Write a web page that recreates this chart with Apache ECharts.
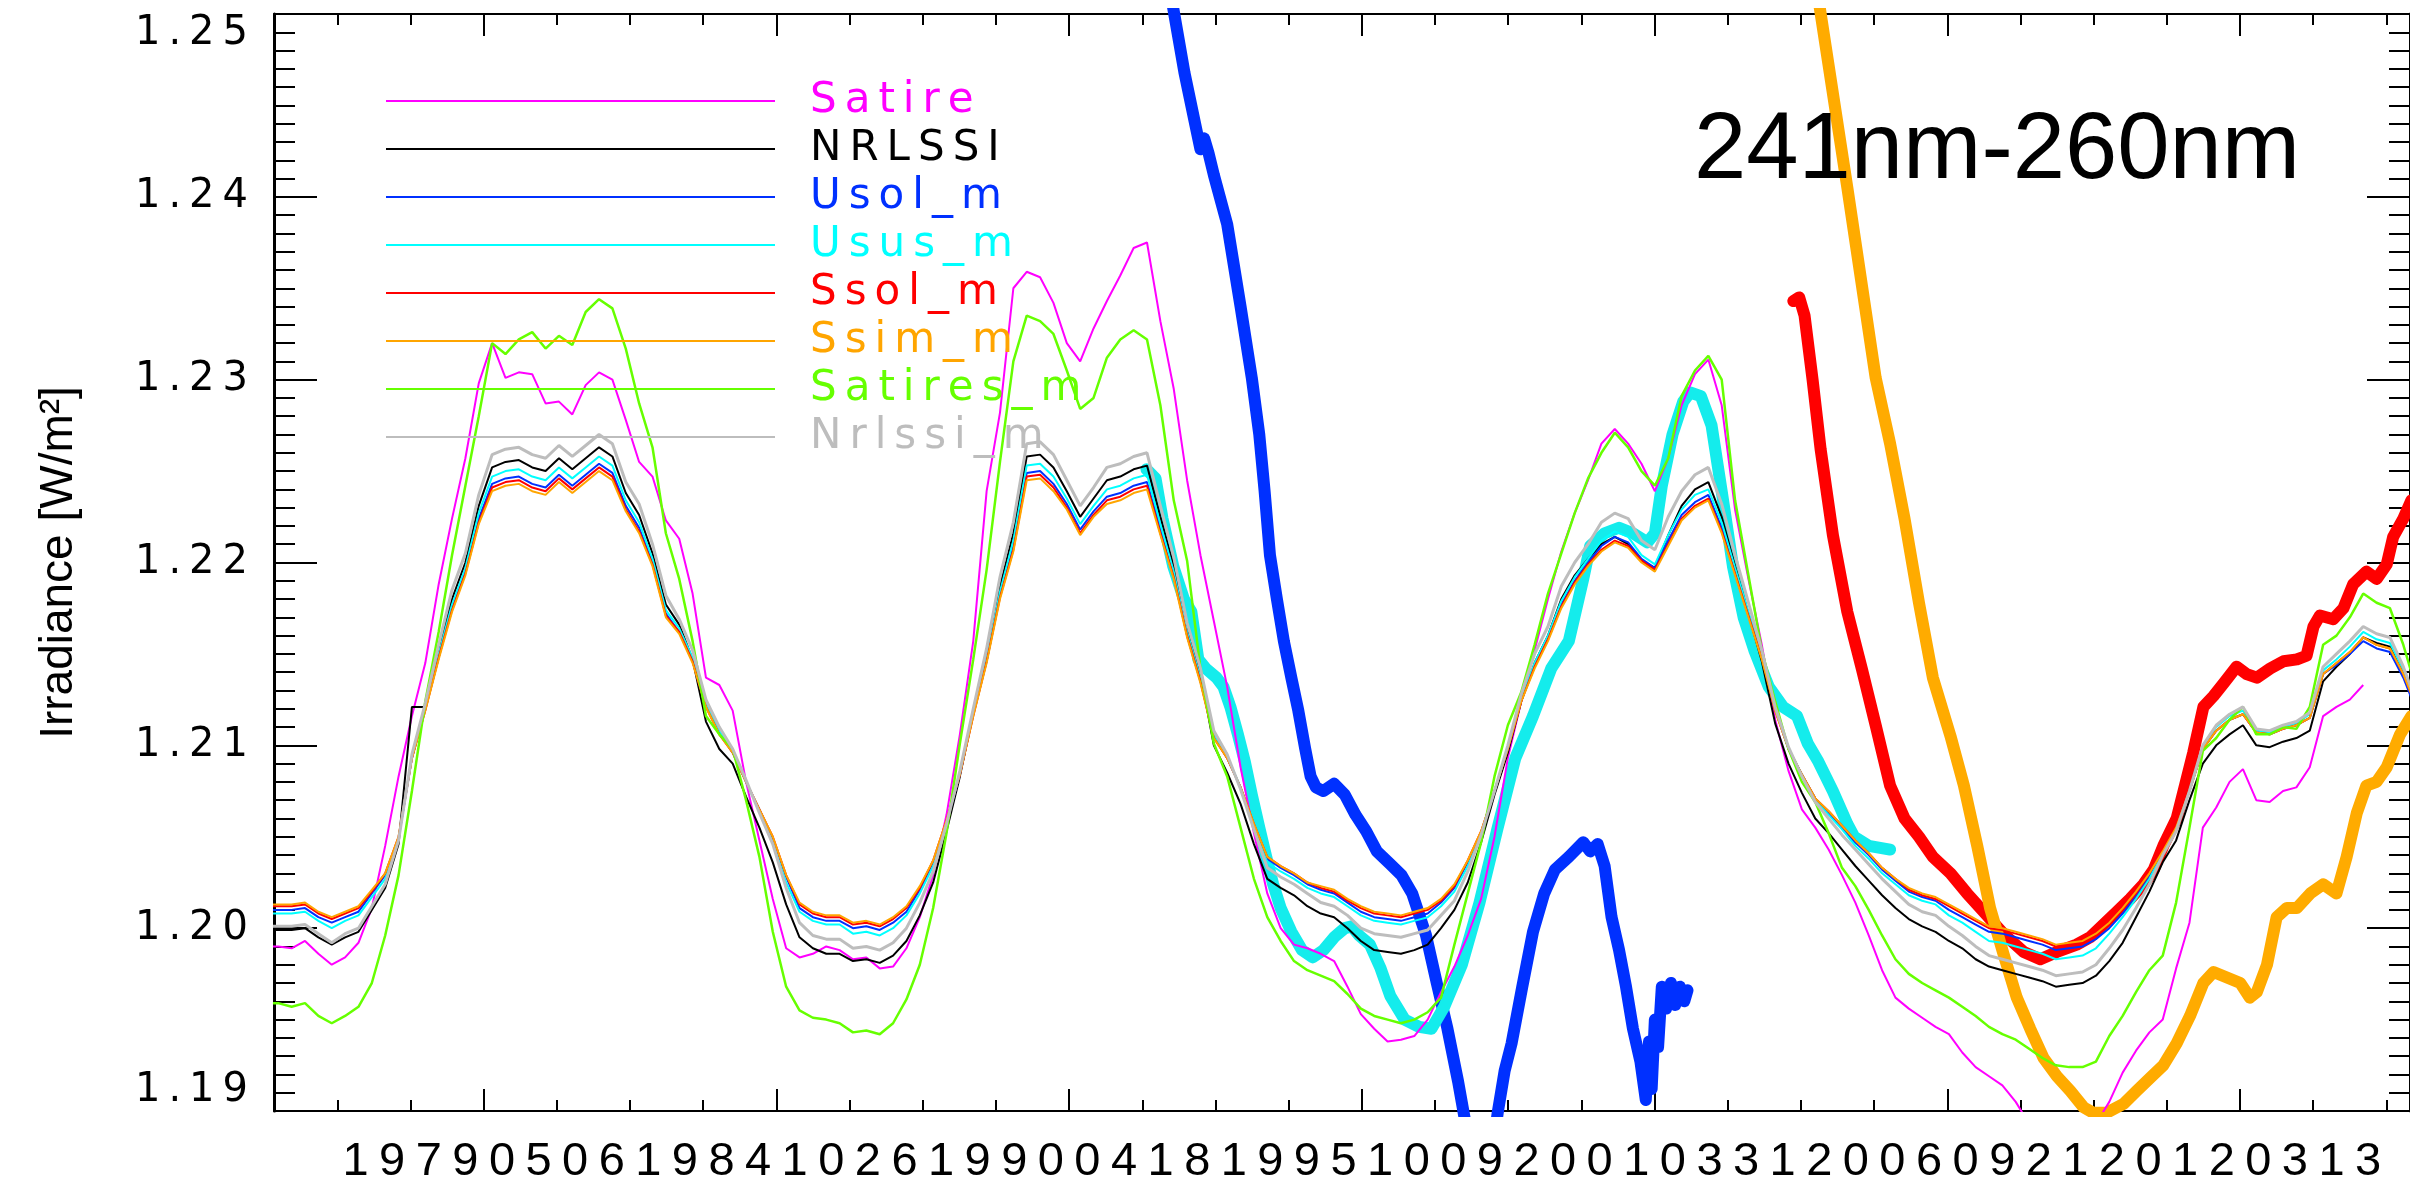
<!DOCTYPE html>
<html>
<head>
<meta charset="utf-8">
<script src="https://cdn.jsdelivr.net/npm/echarts@6/dist/echarts.min.js"></script>
<style>
  html, body { margin: 0; padding: 0; background: #fff; }
  #chart { width: 2410px; height: 1186px; }
</style>
</head>
<body>
<div id="chart"></div>
<script>
// Sample times (decimal years) shared by the eight modelled series
const years = [
  1975.4, 1975.5, 1975.75,
  1976, 1976.25, 1976.5, 1976.75,
  1977, 1977.25, 1977.5, 1977.75,
  1978, 1978.25, 1978.5, 1978.75,
  1979, 1979.25, 1979.5, 1979.75,
  1980, 1980.25, 1980.5, 1980.75,
  1981, 1981.25, 1981.5, 1981.75,
  1982, 1982.25, 1982.5, 1982.75,
  1983, 1983.25, 1983.5, 1983.75,
  1984, 1984.25, 1984.5, 1984.75,
  1985, 1985.25, 1985.5, 1985.75,
  1986, 1986.25, 1986.5, 1986.75,
  1987, 1987.25, 1987.5, 1987.75,
  1988, 1988.25, 1988.5, 1988.75,
  1989, 1989.25, 1989.5, 1989.75,
  1990, 1990.25, 1990.5, 1990.75,
  1991, 1991.25, 1991.5, 1991.75,
  1992, 1992.25, 1992.5, 1992.75,
  1993, 1993.25, 1993.5, 1993.75,
  1994, 1994.25, 1994.5, 1994.75,
  1995, 1995.25, 1995.5, 1995.75,
  1996, 1996.25, 1996.5, 1996.75,
  1997, 1997.25, 1997.5, 1997.75,
  1998, 1998.25, 1998.5, 1998.75,
  1999, 1999.25, 1999.5, 1999.75,
  2000, 2000.25, 2000.5, 2000.75,
  2001, 2001.25, 2001.5, 2001.75,
  2002, 2002.25, 2002.5, 2002.75,
  2003, 2003.25, 2003.5, 2003.75,
  2004, 2004.25, 2004.5, 2004.75,
  2005, 2005.25, 2005.5, 2005.75,
  2006, 2006.25, 2006.5, 2006.75,
  2007, 2007.25, 2007.5, 2007.75,
  2008, 2008.25, 2008.5, 2008.75,
  2009, 2009.25, 2009.5, 2009.75,
  2010, 2010.25, 2010.5, 2010.75,
  2011, 2011.25, 2011.5, 2011.75,
  2012, 2012.25, 2012.5, 2012.75,
  2013, 2013.25, 2013.5, 2013.75,
  2014, 2014.25, 2014.5, 2014.75,
  2015, 2015.25, 2015.4
];

const satire = [
  1.1990, 1.1990, 1.1989,
  1.1993, 1.1986, 1.1980, 1.1984,
  1.1992, 1.2011, 1.2045, 1.2083,
  1.2116, 1.2145, 1.2188, 1.2224,
  1.2257, 1.2298, 1.2320, 1.2301,
  1.2304, 1.2303, 1.2287, 1.2288,
  1.2281, 1.2297, 1.2304, 1.2300,
  1.2278, 1.2255, 1.2247, 1.2223,
  1.2213, 1.2183, 1.2137, 1.2133,
  1.2119, 1.2080, 1.2048, 1.2016,
  1.1989, 1.1984, 1.1986, 1.1990,
  1.1988, 1.1983, 1.1984, 1.1978,
  1.1979, 1.1989, 1.2006, 1.2029,
  1.2062, 1.2106, 1.2157, 1.2239,
  1.2282, 1.2350, 1.2359, 1.2356,
  1.2342, 1.2320, 1.2310, 1.2328,
  1.2343, 1.2357, 1.2372, 1.2375,
  1.2332, 1.2295, 1.2245, 1.2204,
  1.2168, 1.2132, 1.2088, 1.2052,
  1.2019, 1.2000, 1.1991, 1.1989,
  1.1986, 1.1982, 1.1968, 1.1953,
  1.1945, 1.1938, 1.1939, 1.1941,
  1.1950, 1.1965, 1.1979, 1.1996,
  1.2016, 1.2050, 1.2093, 1.2124,
  1.2152, 1.2180, 1.2206, 1.2227,
  1.2245, 1.2265, 1.2273, 1.2265,
  1.2254, 1.2239, 1.2257, 1.2286,
  1.2303, 1.2311, 1.2286, 1.2229,
  1.2191, 1.2155, 1.2114, 1.2086,
  1.2065, 1.2055, 1.2043, 1.2029,
  1.2014, 1.1996, 1.1977, 1.1962,
  1.1956, 1.1951, 1.1946, 1.1942,
  1.1932, 1.1924, 1.1919, 1.1914,
  1.1905, 1.1893, 1.1888, 1.1884,
  1.1884, 1.1886, 1.1893, 1.1905,
  1.1921, 1.1933, 1.1943, 1.1950,
  1.1978, 1.2003, 1.2055, 1.2066,
  1.2080, 1.2087, 1.2070, 1.2069,
  1.2075, 1.2077, 1.2088, 1.2116,
  1.2121, 1.2125, 1.2133, null,
  null, null, null
];

const nrlssi = [
  1.1999, 1.1999, 1.1999,
  1.2000, 1.1995, 1.1991, 1.1995,
  1.1998, 1.2010, 1.2022, 1.2046,
  1.2121, 1.2121, 1.2152, 1.2180,
  1.2200, 1.2231, 1.2252, 1.2255,
  1.2256, 1.2252, 1.2250, 1.2257,
  1.2251, 1.2257, 1.2263, 1.2258,
  1.2238, 1.2226, 1.2205, 1.2177,
  1.2166, 1.2147, 1.2113, 1.2098,
  1.2090, 1.2072, 1.2055, 1.2036,
  1.2013, 1.1995, 1.1989, 1.1986,
  1.1986, 1.1982, 1.1983, 1.1981,
  1.1985, 1.1993, 1.2007, 1.2025,
  1.2053, 1.2083, 1.2118, 1.2150,
  1.2187, 1.2216, 1.2258, 1.2259,
  1.2252, 1.2239, 1.2225, 1.2235,
  1.2245, 1.2247, 1.2251, 1.2253,
  1.2225, 1.2198, 1.2164, 1.2139,
  1.2100, 1.2085, 1.2068, 1.2046,
  1.2027, 1.2022, 1.2018, 1.2012,
  1.2008, 1.2006, 1.2000, 1.1993,
  1.1988, 1.1987, 1.1986, 1.1988,
  1.1991, 1.2000, 1.2010, 1.2025,
  1.2047, 1.2073, 1.2096, 1.2124,
  1.2145, 1.2160, 1.2180, 1.2193,
  1.2202, 1.2210, 1.2214, 1.2210,
  1.2201, 1.2197, 1.2215, 1.2231,
  1.2240, 1.2244, 1.2225, 1.2198,
  1.2172, 1.2146, 1.2112, 1.2090,
  1.2074, 1.2060, 1.2052, 1.2043,
  1.2034, 1.2026, 1.2018, 1.2011,
  1.2005, 1.2001, 1.1998, 1.1993,
  1.1989, 1.1983, 1.1979, 1.1977,
  1.1975, 1.1973, 1.1971, 1.1968,
  1.1969, 1.1970, 1.1974, 1.1982,
  1.1992, 1.2006, 1.2020, 1.2036,
  1.2048, 1.2070, 1.2090, 1.2100,
  1.2106, 1.2111, 1.2100, 1.2099,
  1.2102, 1.2104, 1.2108, 1.2135,
  1.2143, 1.2150, 1.2159, 1.2156,
  1.2154, 1.2139, 1.2128
];

const usolM = [
  1.2010, 1.2010, 1.2010,
  1.2011, 1.2006, 1.2003, 1.2006,
  1.2009, 1.2019, 1.2029, 1.2049,
  1.2093, 1.2120, 1.2148, 1.2175,
  1.2195, 1.2224, 1.2243, 1.2246,
  1.2247, 1.2243, 1.2241, 1.2248,
  1.2242, 1.2248, 1.2254, 1.2249,
  1.2231, 1.2219, 1.2200, 1.2172,
  1.2162, 1.2146, 1.2122, 1.2107,
  1.2096, 1.2080, 1.2065, 1.2049,
  1.2028, 1.2011, 1.2006, 1.2004,
  1.2004, 1.2000, 1.2001, 1.1999,
  1.2003, 1.2009, 1.2021, 1.2036,
  1.2058, 1.2084, 1.2117, 1.2146,
  1.2182, 1.2209, 1.2249, 1.2250,
  1.2243, 1.2232, 1.2218, 1.2228,
  1.2236, 1.2238, 1.2242, 1.2244,
  1.2218, 1.2193, 1.2160, 1.2135,
  1.2105, 1.2093, 1.2077, 1.2056,
  1.2038, 1.2033, 1.2029, 1.2024,
  1.2021, 1.2019, 1.2014, 1.2009,
  1.2006, 1.2005, 1.2004, 1.2006,
  1.2008, 1.2014, 1.2022, 1.2036,
  1.2052, 1.2075, 1.2098, 1.2125,
  1.2143, 1.2158, 1.2177, 1.2190,
  1.2200, 1.2209, 1.2214, 1.2211,
  1.2202, 1.2197, 1.2212, 1.2226,
  1.2233, 1.2237, 1.2219, 1.2195,
  1.2172, 1.2148, 1.2120, 1.2098,
  1.2084, 1.2071, 1.2063, 1.2055,
  1.2047, 1.2040, 1.2032, 1.2026,
  1.2020, 1.2017, 1.2015, 1.2010,
  1.2006, 1.2002, 1.1998, 1.1997,
  1.1995, 1.1993, 1.1991, 1.1988,
  1.1989, 1.1990, 1.1994, 1.2000,
  1.2008, 1.2018, 1.2029, 1.2041,
  1.2054, 1.2075, 1.2098, 1.2108,
  1.2114, 1.2117, 1.2107, 1.2106,
  1.2109, 1.2111, 1.2115, 1.2139,
  1.2144, 1.2150, 1.2157, 1.2153,
  1.2151, 1.2137, 1.2126
];

const ususM = [
  1.2008, 1.2008, 1.2008,
  1.2009, 1.2004, 1.2000, 1.2004,
  1.2007, 1.2017, 1.2027, 1.2049,
  1.2094, 1.2121, 1.2150, 1.2177,
  1.2197, 1.2227, 1.2247, 1.2250,
  1.2251, 1.2247, 1.2245, 1.2252,
  1.2246, 1.2252, 1.2258, 1.2253,
  1.2234, 1.2222, 1.2202, 1.2174,
  1.2164, 1.2148, 1.2123, 1.2108,
  1.2097, 1.2080, 1.2064, 1.2047,
  1.2025, 1.2009, 1.2004, 1.2002,
  1.2002, 1.1997, 1.1998, 1.1996,
  1.2000, 1.2007, 1.2019, 1.2034,
  1.2058, 1.2085, 1.2118, 1.2148,
  1.2184, 1.2212, 1.2253, 1.2254,
  1.2247, 1.2235, 1.2221, 1.2231,
  1.2240, 1.2242, 1.2246, 1.2248,
  1.2221, 1.2195, 1.2162, 1.2137,
  1.2106, 1.2094, 1.2077, 1.2056,
  1.2036, 1.2031, 1.2027, 1.2022,
  1.2019, 1.2017, 1.2012, 1.2007,
  1.2004, 1.2003, 1.2002, 1.2004,
  1.2006, 1.2012, 1.2020, 1.2034,
  1.2052, 1.2075, 1.2099, 1.2126,
  1.2145, 1.2160, 1.2179, 1.2192,
  1.2202, 1.2212, 1.2217, 1.2214,
  1.2204, 1.2199, 1.2215, 1.2229,
  1.2237, 1.2240, 1.2222, 1.2197,
  1.2173, 1.2149, 1.2120, 1.2098,
  1.2084, 1.2070, 1.2062, 1.2054,
  1.2045, 1.2038, 1.2030, 1.2024,
  1.2018, 1.2015, 1.2013, 1.2007,
  1.2003, 1.1998, 1.1993, 1.1992,
  1.1990, 1.1988, 1.1986, 1.1983,
  1.1984, 1.1985, 1.1989, 1.1997,
  1.2006, 1.2016, 1.2027, 1.2041,
  1.2054, 1.2075, 1.2099, 1.2110,
  1.2116, 1.2119, 1.2108, 1.2107,
  1.2110, 1.2112, 1.2117, 1.2141,
  1.2147, 1.2154, 1.2162, 1.2158,
  1.2156, 1.2141, 1.2130
];

const ssolM = [
  1.2012, 1.2012, 1.2012,
  1.2013, 1.2008, 1.2005, 1.2008,
  1.2011, 1.2020, 1.2030, 1.2050,
  1.2093, 1.2119, 1.2148, 1.2174,
  1.2194, 1.2222, 1.2241, 1.2244,
  1.2245, 1.2241, 1.2239, 1.2246,
  1.2240, 1.2246, 1.2252, 1.2247,
  1.2229, 1.2217, 1.2199, 1.2171,
  1.2162, 1.2146, 1.2121, 1.2106,
  1.2096, 1.2080, 1.2065, 1.2050,
  1.2029, 1.2013, 1.2008, 1.2006,
  1.2006, 1.2002, 1.2003, 1.2001,
  1.2005, 1.2011, 1.2022, 1.2037,
  1.2059, 1.2084, 1.2116, 1.2146,
  1.2181, 1.2207, 1.2247, 1.2248,
  1.2241, 1.2230, 1.2216, 1.2226,
  1.2234, 1.2236, 1.2240, 1.2242,
  1.2216, 1.2192, 1.2160, 1.2135,
  1.2104, 1.2093, 1.2077, 1.2057,
  1.2039, 1.2034, 1.2030, 1.2025,
  1.2022, 1.2020, 1.2015, 1.2011,
  1.2008, 1.2007, 1.2006, 1.2008,
  1.2010, 1.2015, 1.2023, 1.2037,
  1.2053, 1.2075, 1.2098, 1.2124,
  1.2143, 1.2158, 1.2176, 1.2189,
  1.2199, 1.2207, 1.2212, 1.2209,
  1.2201, 1.2196, 1.2210, 1.2224,
  1.2231, 1.2235, 1.2217, 1.2194,
  1.2171, 1.2148, 1.2119, 1.2098,
  1.2084, 1.2071, 1.2064, 1.2056,
  1.2048, 1.2041, 1.2033, 1.2027,
  1.2021, 1.2018, 1.2016, 1.2012,
  1.2008, 1.2004, 1.2000, 1.1999,
  1.1997, 1.1995, 1.1993, 1.1990,
  1.1991, 1.1992, 1.1996, 1.2002,
  1.2010, 1.2019, 1.2030, 1.2042,
  1.2055, 1.2075, 1.2098, 1.2108,
  1.2114, 1.2117, 1.2107, 1.2106,
  1.2109, 1.2111, 1.2115, 1.2139,
  1.2145, 1.2151, 1.2159, 1.2155,
  1.2153, 1.2139, 1.2128
];

const ssimM = [
  1.2013, 1.2013, 1.2013,
  1.2014, 1.2009, 1.2006, 1.2009,
  1.2012, 1.2021, 1.2030, 1.2050,
  1.2093, 1.2119, 1.2147, 1.2173,
  1.2193, 1.2221, 1.2239, 1.2242,
  1.2243, 1.2239, 1.2237, 1.2244,
  1.2238, 1.2244, 1.2250, 1.2245,
  1.2228, 1.2216, 1.2198, 1.2170,
  1.2161, 1.2145, 1.2121, 1.2106,
  1.2096, 1.2080, 1.2065, 1.2050,
  1.2029, 1.2014, 1.2009, 1.2007,
  1.2007, 1.2003, 1.2004, 1.2002,
  1.2006, 1.2012, 1.2023, 1.2037,
  1.2059, 1.2084, 1.2116, 1.2145,
  1.2180, 1.2206, 1.2245, 1.2246,
  1.2239, 1.2229, 1.2215, 1.2225,
  1.2232, 1.2234, 1.2238, 1.2240,
  1.2215, 1.2191, 1.2159, 1.2134,
  1.2104, 1.2093, 1.2077, 1.2057,
  1.2039, 1.2034, 1.2030, 1.2025,
  1.2023, 1.2021, 1.2016, 1.2012,
  1.2009, 1.2008, 1.2007, 1.2009,
  1.2011, 1.2016, 1.2024, 1.2037,
  1.2053, 1.2075, 1.2098, 1.2124,
  1.2142, 1.2157, 1.2175, 1.2188,
  1.2198, 1.2206, 1.2211, 1.2208,
  1.2200, 1.2195, 1.2209, 1.2223,
  1.2230, 1.2234, 1.2216, 1.2193,
  1.2170, 1.2147, 1.2119, 1.2098,
  1.2084, 1.2071, 1.2064, 1.2056,
  1.2048, 1.2041, 1.2033, 1.2027,
  1.2022, 1.2019, 1.2017, 1.2013,
  1.2009, 1.2005, 1.2001, 1.2000,
  1.1998, 1.1996, 1.1994, 1.1991,
  1.1992, 1.1993, 1.1997, 1.2003,
  1.2011, 1.2020, 1.2030, 1.2042,
  1.2055, 1.2075, 1.2098, 1.2108,
  1.2114, 1.2117, 1.2107, 1.2106,
  1.2109, 1.2111, 1.2115, 1.2139,
  1.2145, 1.2151, 1.2159, 1.2155,
  1.2153, 1.2139, 1.2128
];

const satiresM = [
  1.1959, 1.1959, 1.1957,
  1.1959, 1.1952, 1.1948, 1.1952,
  1.1957, 1.1970, 1.1996, 1.2029,
  1.2075, 1.2124, 1.2162, 1.2204,
  1.2242, 1.2280, 1.2320, 1.2314,
  1.2322, 1.2326, 1.2317, 1.2324,
  1.2319, 1.2337, 1.2344, 1.2339,
  1.2317, 1.2287, 1.2263, 1.2216,
  1.2191, 1.2157, 1.2116, 1.2106,
  1.2098, 1.2070, 1.2039, 1.1998,
  1.1968, 1.1955, 1.1951, 1.1950,
  1.1948, 1.1943, 1.1944, 1.1942,
  1.1948, 1.1961, 1.1980, 1.2011,
  1.2052, 1.2101, 1.2147, 1.2196,
  1.2255, 1.2310, 1.2335, 1.2332,
  1.2325, 1.2305, 1.2284, 1.2290,
  1.2312, 1.2322, 1.2327, 1.2322,
  1.2286, 1.2234, 1.2201, 1.2142,
  1.2101, 1.2083, 1.2055, 1.2027,
  1.2006, 1.1993, 1.1982, 1.1977,
  1.1974, 1.1971, 1.1964, 1.1956,
  1.1952, 1.1950, 1.1948, 1.1950,
  1.1954, 1.1962, 1.1991, 1.2019,
  1.2047, 1.2083, 1.2111, 1.2129,
  1.2155, 1.2183, 1.2205, 1.2227,
  1.2246, 1.2260, 1.2271, 1.2263,
  1.2250, 1.2242, 1.2257, 1.2291,
  1.2305, 1.2313, 1.2300, 1.2234,
  1.2193, 1.2152, 1.2124, 1.2098,
  1.2080, 1.2069, 1.2052, 1.2033,
  1.2023, 1.2010, 1.1996, 1.1983,
  1.1975, 1.1970, 1.1966, 1.1962,
  1.1957, 1.1952, 1.1946, 1.1942,
  1.1939, 1.1934, 1.1929, 1.1925,
  1.1924, 1.1924, 1.1927, 1.1941,
  1.1952, 1.1965, 1.1977, 1.1985,
  1.2014, 1.2055, 1.2097, 1.2104,
  1.2114, 1.2121, 1.2106, 1.2106,
  1.2110, 1.2109, 1.2121, 1.2155,
  1.2160, 1.2170, 1.2183, 1.2178,
  1.2175, 1.2155, 1.2140
];

const nrlssiM = [
  1.2001, 1.2001, 1.2001,
  1.2002, 1.1997, 1.1992, 1.1997,
  1.2000, 1.2012, 1.2024, 1.2048,
  1.2095, 1.2123, 1.2155, 1.2185,
  1.2205, 1.2237, 1.2259, 1.2262,
  1.2263, 1.2259, 1.2257, 1.2264,
  1.2258, 1.2264, 1.2270, 1.2265,
  1.2244, 1.2232, 1.2210, 1.2182,
  1.2169, 1.2152, 1.2125, 1.2110,
  1.2098, 1.2081, 1.2063, 1.2046,
  1.2022, 1.2003, 1.1996, 1.1994,
  1.1994, 1.1989, 1.1990, 1.1988,
  1.1992, 1.2000, 1.2014, 1.2031,
  1.2057, 1.2086, 1.2120, 1.2153,
  1.2192, 1.2222, 1.2265, 1.2266,
  1.2259, 1.2245, 1.2231, 1.2241,
  1.2252, 1.2254, 1.2258, 1.2260,
  1.2231, 1.2203, 1.2167, 1.2142,
  1.2108, 1.2095, 1.2076, 1.2054,
  1.2033, 1.2028, 1.2024, 1.2019,
  1.2014, 1.2012, 1.2007, 1.2000,
  1.1997, 1.1996, 1.1995, 1.1997,
  1.1999, 1.2007, 1.2015, 1.2031,
  1.2051, 1.2075, 1.2100, 1.2128,
  1.2150, 1.2165, 1.2187, 1.2200,
  1.2210, 1.2222, 1.2227, 1.2224,
  1.2212, 1.2207, 1.2225, 1.2239,
  1.2248, 1.2252, 1.2232, 1.2204,
  1.2178, 1.2152, 1.2121, 1.2099,
  1.2083, 1.2069, 1.2060, 1.2051,
  1.2043, 1.2035, 1.2027, 1.2020,
  1.2013, 1.2009, 1.2007, 1.2001,
  1.1996, 1.1990, 1.1985, 1.1983,
  1.1981, 1.1979, 1.1977, 1.1974,
  1.1975, 1.1976, 1.1980, 1.1989,
  1.1999, 1.2011, 1.2024, 1.2040,
  1.2053, 1.2075, 1.2100, 1.2111,
  1.2117, 1.2121, 1.2109, 1.2108,
  1.2111, 1.2113, 1.2118, 1.2143,
  1.2150, 1.2157, 1.2165, 1.2161,
  1.2159, 1.2143, 1.2131
];

// Observation records: [decimal year, irradiance]
const usolObs = [
  [1992.20, 1.2510], [1992.45, 1.2468], [1992.65, 1.2440], [1992.75, 1.2426],
  [1992.82, 1.2432], [1992.90, 1.2424], [1993.00, 1.2412], [1993.25, 1.2385],
  [1993.50, 1.2340], [1993.71, 1.2301], [1993.85, 1.2270], [1993.95, 1.2239],
  [1994.05, 1.2204], [1994.18, 1.2180], [1994.31, 1.2157], [1994.45, 1.2137],
  [1994.58, 1.2119], [1994.71, 1.2098], [1994.81, 1.2083], [1994.91, 1.2077],
  [1995.05, 1.2075], [1995.25, 1.2079], [1995.45, 1.2073], [1995.65, 1.2062],
  [1995.85, 1.2053], [1996.05, 1.2042], [1996.30, 1.2035], [1996.51, 1.2029],
  [1996.71, 1.2019], [1996.97, 1.1996], [1997.17, 1.1970], [1997.37, 1.1945],
  [1997.57, 1.1916], [1997.71, 1.1893], [1997.85, 1.1870], [1998.20, 1.1875],
  [1998.31, 1.1899], [1998.44, 1.1922], [1998.57, 1.1937], [1998.77, 1.1968],
  [1998.97, 1.1998], [1999.18, 1.2019], [1999.38, 1.2032], [1999.64, 1.2039],
  [1999.91, 1.2047], [2000.04, 1.2042], [2000.18, 1.2046], [2000.31, 1.2034],
  [2000.44, 1.2006], [2000.58, 1.1988], [2000.71, 1.1968], [2000.84, 1.1945],
  [2000.98, 1.1927], [2001.08, 1.1906], [2001.14, 1.1938], [2001.19, 1.1912],
  [2001.25, 1.1950], [2001.31, 1.1935], [2001.38, 1.1968], [2001.46, 1.1956],
  [2001.55, 1.1970], [2001.63, 1.1958], [2001.72, 1.1968], [2001.80, 1.1960],
  [2001.86, 1.1966]
];

const ususObs = [
  [1991.74, 1.2251], [1991.91, 1.2246], [1992.04, 1.2224], [1992.24, 1.2198],
  [1992.44, 1.2180], [1992.58, 1.2173], [1992.71, 1.2147], [1992.85, 1.2142],
  [1993.05, 1.2137], [1993.18, 1.2132], [1993.31, 1.2121], [1993.45, 1.2106],
  [1993.58, 1.2091], [1993.71, 1.2073], [1993.85, 1.2055], [1993.98, 1.2039],
  [1994.11, 1.2024], [1994.25, 1.2011], [1994.45, 1.1998], [1994.65, 1.1988],
  [1994.85, 1.1984], [1995.05, 1.1988], [1995.25, 1.1995], [1995.45, 1.2000],
  [1995.58, 1.2001], [1995.72, 1.1996], [1995.92, 1.1991], [1996.12, 1.1978],
  [1996.30, 1.1963], [1996.57, 1.1950], [1996.84, 1.1946], [1997.07, 1.1945],
  [1997.31, 1.1957], [1997.64, 1.1980], [1997.97, 1.2014], [1998.31, 1.2055],
  [1998.64, 1.2093], [1998.97, 1.2116], [1999.31, 1.2142], [1999.64, 1.2157],
  [1999.91, 1.2191], [2000.04, 1.2209], [2000.31, 1.2216], [2000.58, 1.2219],
  [2000.84, 1.2216], [2001.11, 1.2211], [2001.25, 1.2216], [2001.38, 1.2242],
  [2001.58, 1.2270], [2001.78, 1.2288], [2001.91, 1.2293], [2002.11, 1.2291],
  [2002.31, 1.2275], [2002.51, 1.2237], [2002.71, 1.2198], [2002.91, 1.2170],
  [2003.11, 1.2152], [2003.38, 1.2132], [2003.65, 1.2121], [2003.91, 1.2116],
  [2004.11, 1.2101], [2004.31, 1.2091], [2004.58, 1.2075], [2004.85, 1.2057],
  [2004.98, 1.2050], [2005.25, 1.2045], [2005.65, 1.2043]
];

const ssolObs = [
  [2003.84, 1.2343], [2003.95, 1.2345], [2004.05, 1.2335], [2004.20, 1.2300],
  [2004.35, 1.2262], [2004.58, 1.2215], [2004.85, 1.2173], [2005.12, 1.2142],
  [2005.38, 1.2111], [2005.65, 1.2078], [2005.92, 1.2060], [2006.19, 1.2050],
  [2006.45, 1.2039], [2006.78, 1.2030], [2007.09, 1.2019], [2007.40, 1.2009],
  [2007.77, 1.1997], [2008.15, 1.1987], [2008.46, 1.1983], [2008.77, 1.1987],
  [2009.14, 1.1991], [2009.39, 1.1995], [2009.64, 1.2002], [2009.89, 1.2009],
  [2010.14, 1.2016], [2010.39, 1.2024], [2010.58, 1.2032], [2010.76, 1.2045],
  [2011.01, 1.2060], [2011.14, 1.2075], [2011.32, 1.2096], [2011.51, 1.2121],
  [2011.70, 1.2127], [2011.89, 1.2134], [2012.13, 1.2143], [2012.32, 1.2139],
  [2012.51, 1.2137], [2012.76, 1.2142], [2013.01, 1.2146], [2013.26, 1.2147],
  [2013.44, 1.2149], [2013.57, 1.2165], [2013.69, 1.2171], [2013.94, 1.2169],
  [2014.13, 1.2175], [2014.31, 1.2188], [2014.56, 1.2195], [2014.75, 1.2191],
  [2014.94, 1.2199], [2015.06, 1.2214], [2015.25, 1.2224], [2015.40, 1.2234]
];

const ssimObs = [
  [2004.30, 1.2510], [2004.85, 1.2405], [2005.38, 1.2301], [2005.65, 1.2265],
  [2005.92, 1.2224], [2006.19, 1.2178], [2006.45, 1.2137], [2006.78, 1.2105],
  [2007.03, 1.2078], [2007.28, 1.2045], [2007.52, 1.2011], [2007.77, 1.1986],
  [2008.02, 1.1962], [2008.27, 1.1945], [2008.52, 1.1929], [2008.77, 1.1919],
  [2009.02, 1.1911], [2009.27, 1.1902], [2009.45, 1.1899], [2009.70, 1.1899],
  [2010.02, 1.1904], [2010.26, 1.1911], [2010.51, 1.1918], [2010.76, 1.1925],
  [2011.01, 1.1937], [2011.26, 1.1952], [2011.51, 1.1970], [2011.70, 1.1976],
  [2011.95, 1.1973], [2012.20, 1.1970], [2012.38, 1.1962], [2012.51, 1.1965],
  [2012.70, 1.1980], [2012.88, 1.2006], [2013.07, 1.2011], [2013.26, 1.2011],
  [2013.51, 1.2019], [2013.75, 1.2024], [2014.00, 1.2019], [2014.19, 1.2039],
  [2014.38, 1.2063], [2014.56, 1.2078], [2014.75, 1.2080], [2014.94, 1.2088],
  [2015.19, 1.2106], [2015.40, 1.2116]
];

// Labelled dates on the time axis
const tickDates = ['1979-05-06', '1984-10-26', '1990-04-18', '1995-10-09',
                   '2001-03-31', '2006-09-21', '2012-03-13'];

const seriesNames = ['Satire', 'NRLSSI', 'Usol_m', 'Usus_m', 'Ssol_m', 'Ssim_m', 'Satires_m', 'Nrlssi_m'];
const seriesColors = ['#ff00ff', '#000000', '#0030ff', '#00ffff', '#ff0000', '#ffa500', '#66ff00', '#bdbdbd'];

const X_MIN = 1975.42;
const X_MAX = 2015.375;
const FONT = "'DejaVu Sans', sans-serif";
const SANS = "'Liberation Sans', Arial, sans-serif";

function dateToYear(s) {
  const [y, m, d] = s.split('-').map(Number);
  return 1970 + Date.UTC(y, m - 1, d) / 86400000 / 365.25;
}
const majorTicks = tickDates.map(dateToYear);
const firstDay = Date.UTC(1979, 4, 6) / 86400000;
const minorTicks = [];
for (let k = -8; k <= 40; k++) {
  if (k % 4 === 0) continue;
  const yr = 1970 + (firstDay + 500 * k) / 365.25;
  if (yr > X_MIN && yr < X_MAX) minorTicks.push(yr);
}

// wrap every character in a rich token so the glyphs get even spacing
function spaced(str, token) {
  return str.split('').map(ch => '{' + token + '|' + ch + '}').join('');
}
function xLabel(v) {
  let best = 0;
  majorTicks.forEach((t, i) => { if (Math.abs(t - v) < Math.abs(majorTicks[best] - v)) best = i; });
  return spaced(tickDates[best].replace(/-/g, ''), 'd');
}

const black = '#000';
function xAxisDef(pos, ticks, len, withLine, withLabel) {
  return {
    type: 'value', min: X_MIN, max: X_MAX, position: pos,
    axisLine: { show: withLine, onZero: false, lineStyle: { color: black, width: 2 } },
    axisTick: { show: true, inside: true, length: len, customValues: ticks, lineStyle: { color: black, width: 2 } },
    axisLabel: withLabel ? {
      show: true, customValues: majorTicks, margin: 28, formatter: xLabel, hideOverlap: false,
      rich: { d: { width: 36.6, align: 'center', fontSize: 47, fontFamily: SANS, color: black } }
    } : { show: false },
    splitLine: { show: false }
  };
}
function yAxisDef(pos, withLabel) {
  return {
    type: 'value', min: 1.19, max: 1.25, interval: 0.01, position: pos,
    axisLine: { show: true, onZero: false, lineStyle: { color: black, width: 3 } },
    axisTick: { show: true, inside: true, length: 43, lineStyle: { color: black, width: 2 } },
    minorTick: { show: true, splitNumber: 10, length: 21, lineStyle: { color: black, width: 2 } },
    splitLine: { show: false }, minorSplitLine: { show: false },
    axisLabel: withLabel ? {
      show: true, margin: 22,
      formatter: v => spaced(v.toFixed(2), 'c'),
      verticalAlignMinLabel: 'bottom', verticalAlignMaxLabel: 'top',
      rich: { c: { padding: [0, 4], fontSize: 40, fontFamily: FONT, color: black } }
    } : { show: false },
    name: withLabel ? 'Irradiance [W/m²]' : '',
    nameLocation: 'middle', nameRotate: 90, nameGap: 192,
    nameTextStyle: { fontFamily: SANS, fontSize: 46, color: black }
  };
}

const modelled = [satire, nrlssi, usolM, ususM, ssolM, ssimM, satiresM, nrlssiM];
const thinWidths = [2, 2, 2, 2, 2, 2, 2.5, 3];
const thinSeries = modelled.map((vals, i) => ({
  name: seriesNames[i], type: 'line', xAxisIndex: 0, yAxisIndex: 0,
  data: years.map((x, j) => [x, vals[j]]),
  showSymbol: false, symbol: 'none', clip: true, z: 3,
  lineStyle: { color: seriesColors[i], width: thinWidths[i] },
  itemStyle: { color: seriesColors[i] }
}));
const obsSets = [
  ['Usol obs', usolObs, '#0030ff'],
  ['Usus obs', ususObs, '#14ecec'],
  ['Ssol obs', ssolObs, '#ff0000'],
  ['Ssim obs', ssimObs, '#ffab00']
];
const thickSeries = obsSets.map(([name, data, color]) => ({
  name, type: 'line', xAxisIndex: 0, yAxisIndex: 0, data,
  showSymbol: false, symbol: 'none', clip: true, z: 2,
  lineStyle: { color, width: 12, cap: 'round', join: 'round' },
  itemStyle: { color }
}));

const chart = echarts.init(document.getElementById('chart'), null, { renderer: 'canvas' });
chart.setOption({
  animation: false,
  backgroundColor: '#fff',
  textStyle: { fontFamily: FONT },
  title: {
    text: '241nm-260nm', left: 1689, top: 100,
    textStyle: { fontFamily: SANS, fontSize: 94, fontWeight: 'normal', color: black }
  },
  legend: {
    data: seriesNames.map((n, i) => ({ name: n, textStyle: { color: seriesColors[i] } })),
    orient: 'vertical', left: 381, top: 75,
    itemWidth: 389, itemHeight: 2, itemGap: 6, icon: 'rect', selectedMode: false,
    formatter: n => spaced(n, 'c'),
    textStyle: {
      fontFamily: FONT, fontSize: 42, lineHeight: 40, padding: [0, 0, 0, 26],
      rich: { c: { padding: [0, 4], fontSize: 42, fontFamily: FONT } }
    }
  },
  grid: { left: 274, right: -2, top: 14, bottom: 68, containLabel: false },
  xAxis: [
    xAxisDef('bottom', majorTicks, 22, true, true),
    xAxisDef('top', majorTicks, 22, true, false),
    xAxisDef('bottom', minorTicks, 11, false, false),
    xAxisDef('top', minorTicks, 11, false, false)
  ],
  yAxis: [yAxisDef('left', true), yAxisDef('right', false)],
  series: thickSeries.concat(thinSeries)
});
</script>
</body>
</html>
